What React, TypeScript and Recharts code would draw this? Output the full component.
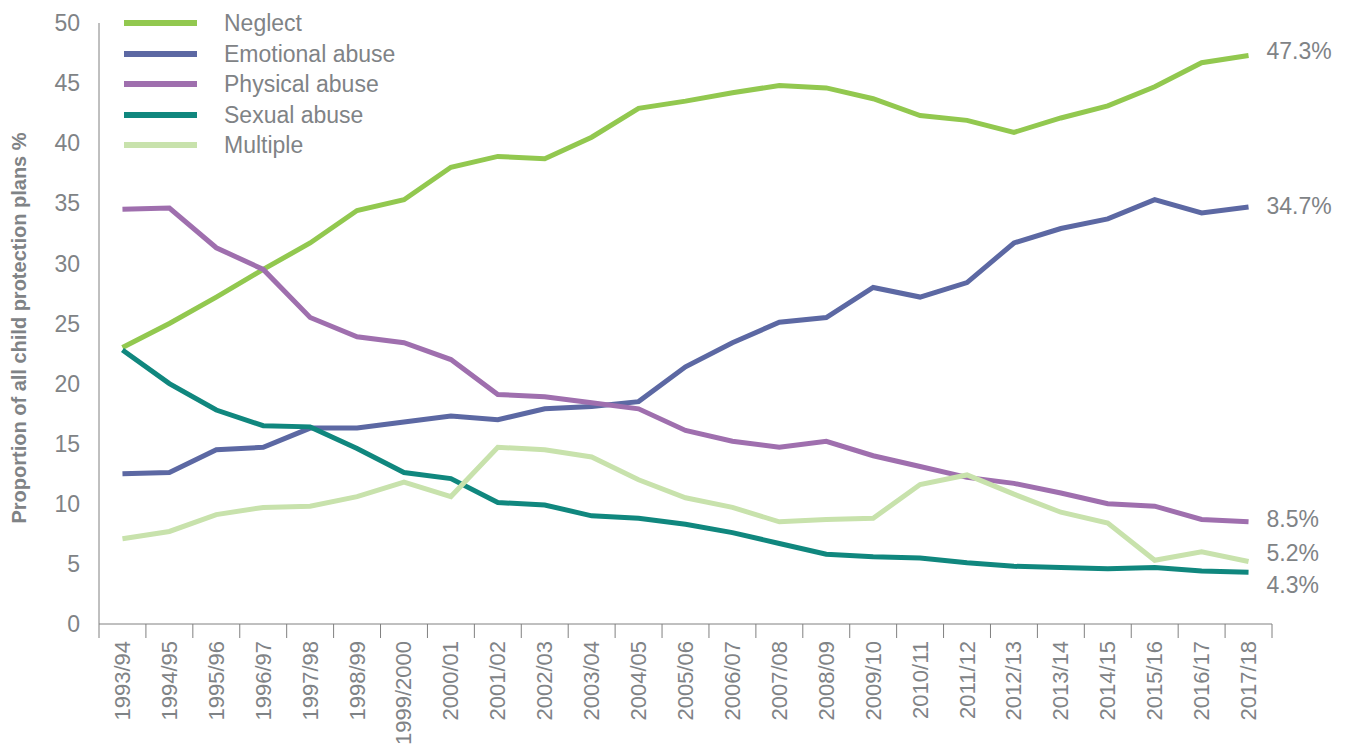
import React from 'react';
import { LineChart, Line, XAxis, YAxis, LabelList } from 'recharts';

const years = [
    '1993/94', '1994/95', '1995/96', '1996/97', '1997/98', '1998/99', '1999/2000', '2000/01', '2001/02',
    '2002/03', '2003/04', '2004/05', '2005/06', '2006/07', '2007/08', '2008/09', '2009/10', '2010/11',
    '2011/12', '2012/13', '2013/14', '2014/15', '2015/16', '2016/17', '2017/18',
];

const neglect = [23.0, 25.0, 27.2, 29.5, 31.7, 34.4, 35.3, 38.0, 38.9, 38.7, 40.5, 42.9, 43.5, 44.2, 44.8, 44.6, 43.7, 42.3, 41.9, 40.9, 42.1, 43.1, 44.7, 46.7, 47.3];
const emotional = [12.5, 12.6, 14.5, 14.7, 16.3, 16.3, 16.8, 17.3, 17.0, 17.9, 18.1, 18.5, 21.4, 23.4, 25.1, 25.5, 28.0, 27.2, 28.4, 31.7, 32.9, 33.7, 35.3, 34.2, 34.7];
const physical = [34.5, 34.6, 31.3, 29.5, 25.5, 23.9, 23.4, 22.0, 19.1, 18.9, 18.4, 17.9, 16.1, 15.2, 14.7, 15.2, 14.0, 13.1, 12.2, 11.7, 10.9, 10.0, 9.8, 8.7, 8.5];
const sexual = [22.8, 20.0, 17.8, 16.5, 16.4, 14.6, 12.6, 12.1, 10.1, 9.9, 9.0, 8.8, 8.3, 7.6, 6.7, 5.8, 5.6, 5.5, 5.1, 4.8, 4.7, 4.6, 4.7, 4.4, 4.3];
const multiple = [7.1, 7.7, 9.1, 9.7, 9.8, 10.6, 11.8, 10.6, 14.7, 14.5, 13.9, 12.0, 10.5, 9.7, 8.5, 8.7, 8.8, 11.6, 12.4, 10.8, 9.3, 8.4, 5.3, 6.0, 5.2];

const yTicks = [0, 5, 10, 15, 20, 25, 30, 35, 40, 45, 50];

const FONT = '"Liberation Sans", Arial, Helvetica, sans-serif';
const GREY = '#7f8386';
const AXIS = '#808080';

const series = [
    { key: 'neglect', name: 'Neglect', color: '#92c84f', dy: -4 },
    { key: 'emotional', name: 'Emotional abuse', color: '#5c68a3', dy: -1 },
    { key: 'physical', name: 'Physical abuse', color: '#9f6fae', dy: -3 },
    { key: 'sexual', name: 'Sexual abuse', color: '#10877e', dy: 13 },
    { key: 'multiple', name: 'Multiple', color: '#c8e2ac', dy: -8 },
];

const data = years.map((year, i) => ({
    year,
    neglect: neglect[i],
    emotional: emotional[i],
    physical: physical[i],
    sexual: sexual[i],
    multiple: multiple[i],
}));

// tick marks sit on the category boundaries, labels in the middle of each band
const YearTick = ({ x, y, payload, index }: any) => {
    const half = payload.offset || 0;
    return (
        <g>
            <line x1={x - half} y1={y} x2={x - half} y2={y + 14} stroke={AXIS} />
            {index === years.length - 1 && <line x1={x + half} y1={y} x2={x + half} y2={y + 14} stroke={AXIS} />}
            <text
                x={x}
                y={y + 17}
                transform={`rotate(-90, ${x}, ${y + 17})`}
                textAnchor="end"
                dominantBaseline="central"
                fontSize={22}
                fontFamily={FONT}
                fill={GREY}
            >
                {payload.value}
            </text>
        </g>
    );
};

const endLabel = (dy: number) => (props: any) => {
    const { x, y, value, index } = props;
    if (index !== years.length - 1) return null;
    return (
        <text x={x + 18} y={y + dy} dominantBaseline="central" fontSize={23} fontFamily={FONT} fill={GREY}>
            {`${value.toFixed(1)}%`}
        </text>
    );
};

const App: React.FC = () => (
    <div style={{ position: 'absolute', left: 0, top: 0, width: 1349, height: 749, background: '#fff' }}>
        <LineChart width={1349} height={749} data={data} margin={{ top: 23, right: 77, bottom: 0, left: 0 }}>
            <XAxis
                dataKey="year"
                scale="band"
                interval={0}
                height={125}
                axisLine={{ stroke: AXIS }}
                tickLine={false}
                tickSize={0}
                tickMargin={0}
                tick={<YearTick />}
            />
            <YAxis
                domain={[0, 50]}
                ticks={yTicks}
                width={99}
                axisLine={{ stroke: AXIS }}
                tickLine={false}
                tickSize={0}
                tickMargin={19}
                tick={{ fontSize: 23, fill: GREY, fontFamily: FONT }}
                label={{
                    content: () => (
                        <text
                            x={19}
                            y={328}
                            transform="rotate(-90, 19, 328)"
                            textAnchor="middle"
                            dominantBaseline="central"
                            fontSize={20}
                            fontWeight="bold"
                            fontFamily={FONT}
                            fill={GREY}
                        >
                            Proportion of all child protection plans %
                        </text>
                    ),
                }}
            />
            {series.map((s) => (
                <Line
                    key={s.key}
                    type="linear"
                    dataKey={s.key}
                    name={s.name}
                    stroke={s.color}
                    strokeWidth={5}
                    dot={false}
                    activeDot={false}
                    isAnimationActive={false}
                >
                    <LabelList dataKey={s.key} content={endLabel(s.dy)} />
                </Line>
            ))}
        </LineChart>
        <div style={{ position: 'absolute', left: 124, top: 8, fontFamily: FONT }}>
            {series.map((s) => (
                <div key={s.key} style={{ display: 'flex', alignItems: 'center', height: 30.5 }}>
                    <div style={{ width: 73, height: 6, background: s.color }} />
                    <span style={{ marginLeft: 27, fontSize: 23, color: GREY, lineHeight: '30px' }}>{s.name}</span>
                </div>
            ))}
        </div>
    </div>
);

export default App;
